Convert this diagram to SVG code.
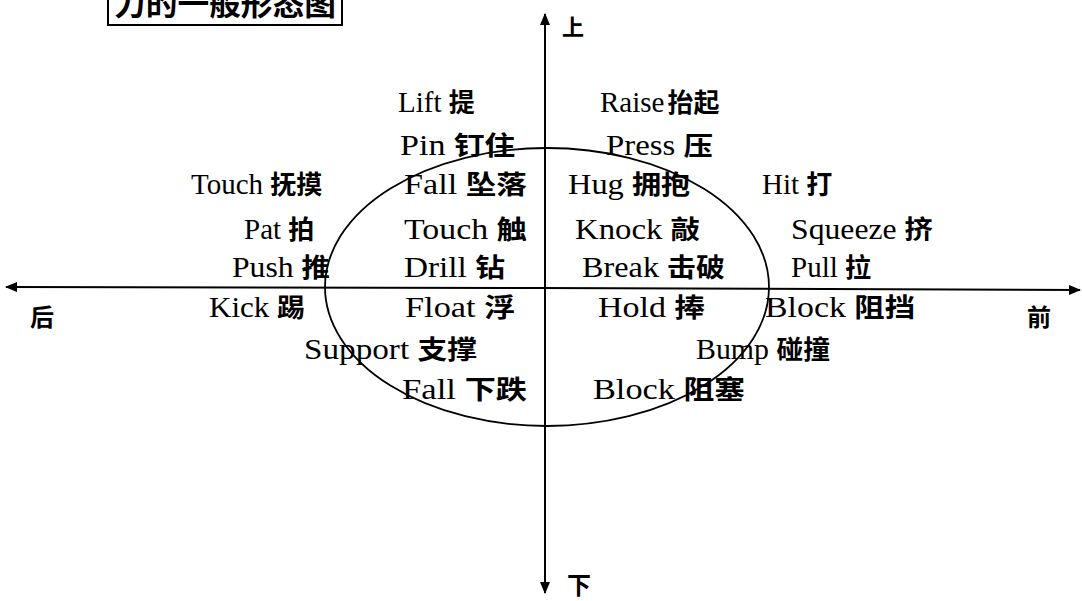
<svg xmlns="http://www.w3.org/2000/svg" width="1082" height="601" viewBox="0 0 1082 601">
<style>
.t{font-family:"Liberation Serif","Noto Sans CJK SC",serif;font-size:29px;fill:#000}
.c{font-family:"Noto Sans CJK SC",sans-serif;font-size:26px;font-weight:700}
.cjk{font-family:"Noto Sans CJK SC",sans-serif;font-weight:700;fill:#000}
.ax{stroke:#000;stroke-width:2;fill:none}
</style>
<defs>
<marker id="ah" viewBox="0 0 12 10" refX="11" refY="5" markerWidth="12" markerHeight="10" markerUnits="userSpaceOnUse" orient="auto">
<path d="M0,0 L12,5 L0,10 z" fill="#000"/>
</marker>
</defs>
<rect width="1082" height="601" fill="#fff"/>
<g id="title">
<rect x="108" y="-14" width="234" height="39" fill="none" stroke="#000" stroke-width="2"/>
<text x="114" y="15" class="cjk" font-size="31" textLength="222" lengthAdjust="spacingAndGlyphs">力的一般形态图</text>
</g>
<g id="connectors">
<line class="ax" x1="545" y1="590" x2="545" y2="14" marker-end="url(#ah)"/>
<line class="ax" x1="545" y1="22" x2="545" y2="593" marker-end="url(#ah)"/>
<line class="ax" x1="540" y1="288" x2="6" y2="287" marker-end="url(#ah)"/>
<line class="ax" x1="540" y1="288" x2="1080" y2="290" marker-end="url(#ah)"/>
</g>
<g id="ellipse">
<ellipse cx="547" cy="287" rx="222" ry="139" fill="none" stroke="#000" stroke-width="1.8"/>
</g>
<g id="axis-labels">
<text id="up" x="562" y="35" class="cjk" font-size="22">上</text>
<text id="down" x="567" y="594" class="cjk" font-size="24">下</text>
<text id="back" x="30" y="326" class="cjk" font-size="24">后</text>
<text id="front" x="1027" y="326" class="cjk" font-size="24">前</text>
</g>
<g id="n-lift"><text class="t" x="398" y="112">Lift <tspan class="c">提</tspan></text></g>
<g id="n-raise"><text class="t" x="600" y="112">Raise<tspan class="c" dx="3">抬起</tspan></text></g>
<g id="n-pin"><text class="t" x="400" y="155" textLength="115" lengthAdjust="spacingAndGlyphs">Pin <tspan class="c">钉住</tspan></text></g>
<g id="n-press"><text class="t" x="606" y="155" textLength="107" lengthAdjust="spacingAndGlyphs">Press <tspan class="c">压</tspan></text></g>
<g id="n-touch1"><text class="t" x="191" y="194">Touch <tspan class="c">抚摸</tspan></text></g>
<g id="n-fall1"><text class="t" x="404" y="194" textLength="123" lengthAdjust="spacingAndGlyphs">Fall <tspan class="c">坠落</tspan></text></g>
<g id="n-hug"><text class="t" x="568" y="194" textLength="122" lengthAdjust="spacingAndGlyphs">Hug <tspan class="c">拥抱</tspan></text></g>
<g id="n-hit"><text class="t" x="762" y="194">Hit <tspan class="c">打</tspan></text></g>
<g id="n-pat"><text class="t" x="244" y="239">Pat <tspan class="c">拍</tspan></text></g>
<g id="n-touch2"><text class="t" x="404" y="239" textLength="123" lengthAdjust="spacingAndGlyphs">Touch <tspan class="c">触</tspan></text></g>
<g id="n-knock"><text class="t" x="575" y="239" textLength="125" lengthAdjust="spacingAndGlyphs">Knock <tspan class="c">敲</tspan></text></g>
<g id="n-squeeze"><text class="t" x="791" y="239" textLength="142" lengthAdjust="spacingAndGlyphs">Squeeze <tspan class="c">挤</tspan></text></g>
<g id="n-push"><text class="t" x="232" y="277" textLength="98" lengthAdjust="spacingAndGlyphs">Push <tspan class="c">推</tspan></text></g>
<g id="n-drill"><text class="t" x="404" y="277" textLength="101" lengthAdjust="spacingAndGlyphs">Drill <tspan class="c">钻</tspan></text></g>
<g id="n-break"><text class="t" x="582" y="277" textLength="143" lengthAdjust="spacingAndGlyphs">Break <tspan class="c">击破</tspan></text></g>
<g id="n-pull"><text class="t" x="791" y="277">Pull <tspan class="c">拉</tspan></text></g>
<g id="n-kick"><text class="t" x="209" y="317" textLength="96" lengthAdjust="spacingAndGlyphs">Kick <tspan class="c">踢</tspan></text></g>
<g id="n-float"><text class="t" x="405" y="317" textLength="110" lengthAdjust="spacingAndGlyphs">Float <tspan class="c">浮</tspan></text></g>
<g id="n-hold"><text class="t" x="598" y="317" textLength="107" lengthAdjust="spacingAndGlyphs">Hold <tspan class="c">捧</tspan></text></g>
<g id="n-block1"><text class="t" x="765" y="317" textLength="150" lengthAdjust="spacingAndGlyphs">Block <tspan class="c">阻挡</tspan></text></g>
<g id="n-support"><text class="t" x="304" y="359" textLength="173" lengthAdjust="spacingAndGlyphs">Support <tspan class="c">支撑</tspan></text></g>
<g id="n-bump"><text class="t" x="696" y="359" textLength="134" lengthAdjust="spacingAndGlyphs">Bump <tspan class="c">碰撞</tspan></text></g>
<g id="n-fall2"><text class="t" x="402" y="399" textLength="125" lengthAdjust="spacingAndGlyphs">Fall <tspan class="c">下跌</tspan></text></g>
<g id="n-block2"><text class="t" x="593" y="399" textLength="152" lengthAdjust="spacingAndGlyphs">Block <tspan class="c">阻塞</tspan></text></g>
</svg>
